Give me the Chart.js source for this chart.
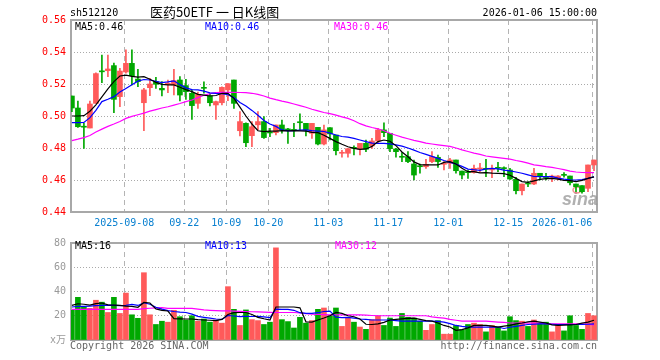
<!DOCTYPE html>
<html>
<head>
<meta charset="utf-8">
<script src="https://cdn.jsdelivr.net/npm/chart.js@4/dist/chart.umd.min.js"></script>
<style>
  body { margin: 0; background: #fff; }
  #wrap { position: relative; width: 660px; height: 360px; overflow: hidden;
          font-family: "DejaVu Sans Mono", monospace; font-size: 10px; }
  canvas { position: absolute; left: 0; }
  .t { position: absolute; white-space: nowrap; line-height: 12px; }
</style>
</head>
<body>
<div id="wrap">
  <canvas id="kChart" width="660" height="235" style="top:0"></canvas>
  <canvas id="volChart" width="660" height="128" style="top:232px"></canvas>
  <div class="t" style="left:70px;top:7px">sh512120</div>
  <div class="t" style="left:150px;top:4px;font:13px/16px 'Noto Sans CJK SC'">医药50ETF 一 日K线图</div>
  <div class="t" style="right:63px;top:7px">2026-01-06 15:00:00</div>
  <div class="t" id="lgMa5" style="left:75px;top:21px;color:#000"></div>
  <div class="t" id="lgMa10" style="left:205px;top:21px;color:#00f"></div>
  <div class="t" id="lgMa30" style="left:334px;top:21px;color:#f0f"></div>
  <div class="t" id="lgVma5" style="left:75px;top:240px;color:#000"></div>
  <div class="t" id="lgVma10" style="left:205px;top:240px;color:#00f"></div>
  <div class="t" id="lgVma30" style="left:335px;top:240px;color:#f0f"></div>
  <div class="t" style="left:70px;top:340px;color:#666">Copyright 2026 SINA.COM</div>
  <div class="t" style="right:63px;top:340px;color:#666">http://finance.sina.com.cn</div>
</div>
<script>
// daily candles, 2025-08-26 .. 2026-01-06 (88 trading days)
const openP = [0.5125,0.5050,0.4932,0.4925,0.5079,0.5280,0.5283,0.5315,0.5121,0.5275,
  0.5329,0.5231,0.5083,0.5177,0.5215,0.5173,0.5198,0.5194,0.5225,0.5190,
  0.5142,0.5079,0.5175,0.5127,0.5069,0.5083,0.5163,0.5225,0.4908,0.4954,
  0.4877,0.4945,0.4965,0.4898,0.4896,0.4944,0.4915,0.4915,0.4960,0.4954,
  0.4892,0.4929,0.4825,0.4927,0.4881,0.4767,0.4767,0.4800,0.4792,0.4829,
  0.4813,0.4844,0.4913,0.4892,0.4794,0.4744,0.4746,0.4700,0.4685,0.4683,
  0.4715,0.4742,0.4698,0.4704,0.4725,0.4656,0.4648,0.4646,0.4669,0.4669,
  0.4663,0.4675,0.4673,0.4663,0.4604,0.4533,0.4577,0.4575,0.4642,0.4617,
  0.4617,0.4610,0.4631,0.4625,0.4575,0.4565,0.4548,0.4694];
const closeP = [0.5050,0.4933,0.4930,0.5075,0.5265,0.5276,0.5294,0.5104,0.5281,0.5329,
  0.5252,0.5215,0.5163,0.5200,0.5198,0.5163,0.5204,0.5221,0.5131,0.5152,
  0.5065,0.5135,0.5173,0.5083,0.5090,0.5179,0.5202,0.5079,0.4965,0.4833,
  0.4933,0.4965,0.4865,0.4894,0.4944,0.4913,0.4913,0.4910,0.4958,0.4913,
  0.4954,0.4825,0.4913,0.4888,0.4783,0.4773,0.4796,0.4798,0.4829,0.4792,
  0.4844,0.4913,0.4896,0.4796,0.4777,0.4742,0.4715,0.4631,0.4683,0.4698,
  0.4746,0.4715,0.4704,0.4725,0.4658,0.4631,0.4646,0.4673,0.4673,0.4667,
  0.4673,0.4673,0.4671,0.4606,0.4533,0.4575,0.4575,0.4642,0.4621,0.4615,
  0.4625,0.4625,0.4629,0.4583,0.4558,0.4527,0.4694,0.4725];
const highP = [0.5125,0.5094,0.4954,0.5094,0.5270,0.5381,0.5381,0.5330,0.5298,0.5413,
  0.5413,0.5292,0.5173,0.5235,0.5242,0.5215,0.5225,0.5292,0.5246,0.5229,
  0.5163,0.5150,0.5213,0.5142,0.5094,0.5183,0.5202,0.5225,0.5027,0.4958,
  0.4965,0.5027,0.4996,0.4923,0.4944,0.4975,0.4923,0.4954,0.5013,0.4954,
  0.4954,0.4929,0.4944,0.4927,0.4881,0.4785,0.4796,0.4813,0.4829,0.4850,
  0.4860,0.4923,0.4958,0.4892,0.4798,0.4771,0.4777,0.4725,0.4700,0.4729,
  0.4777,0.4756,0.4715,0.4735,0.4725,0.4656,0.4662,0.4694,0.4704,0.4729,
  0.4694,0.4710,0.4683,0.4673,0.4617,0.4575,0.4590,0.4673,0.4642,0.4642,
  0.4631,0.4627,0.4646,0.4625,0.4575,0.4565,0.4694,0.4725];
const lowP = [0.5027,0.4929,0.4798,0.4925,0.5079,0.5208,0.5246,0.5021,0.5058,0.5267,
  0.5194,0.5183,0.4908,0.5127,0.5173,0.5125,0.5146,0.5131,0.5094,0.5104,
  0.4979,0.5048,0.5142,0.5063,0.4979,0.5069,0.5096,0.5048,0.4875,0.4808,
  0.4808,0.4913,0.4860,0.4871,0.4881,0.4892,0.4829,0.4871,0.4913,0.4875,
  0.4860,0.4819,0.4819,0.4850,0.4756,0.4742,0.4742,0.4756,0.4756,0.4777,
  0.4798,0.4829,0.4871,0.4777,0.4742,0.4715,0.4708,0.4600,0.4642,0.4673,
  0.4708,0.4679,0.4663,0.4673,0.4642,0.4606,0.4610,0.4642,0.4652,0.4621,
  0.4615,0.4652,0.4621,0.4604,0.4513,0.4506,0.4558,0.4571,0.4600,0.4600,
  0.4590,0.4600,0.4617,0.4569,0.4527,0.4517,0.4527,0.4658];

// moving averages as drawn on the price panel
const ma5 = [0.5000,0.5000,0.5002,0.5030,0.5070,0.5120,0.5170,0.5215,0.5250,0.5255,
  0.5248,0.5243,0.5246,0.5230,0.5210,0.5198,0.5194,0.5194,0.5180,0.5165,
  0.5152,0.5135,0.5130,0.5125,0.5128,0.5142,0.5142,0.5110,0.5055,0.5000,
  0.4950,0.4908,0.4902,0.4906,0.4906,0.4908,0.4907,0.4908,0.4907,0.4905,
  0.4898,0.4896,0.4880,0.4860,0.4840,0.4823,0.4808,0.4798,0.4792,0.4794,
  0.4810,0.4840,0.4850,0.4842,0.4815,0.4775,0.4745,0.4713,0.4696,0.4694,
  0.4694,0.4694,0.4710,0.4715,0.4700,0.4673,0.4652,0.4652,0.4645,0.4646,
  0.4643,0.4642,0.4640,0.4630,0.4610,0.4590,0.4585,0.4595,0.4604,0.4608,
  0.4610,0.4605,0.4598,0.4596,0.4590,0.4598,0.4610,0.4620];
const ma10 = [0.4958,0.4958,0.4960,0.4990,0.5035,0.5090,0.5105,0.5121,0.5150,0.5172,
  0.5195,0.5218,0.5228,0.5225,0.5217,0.5209,0.5213,0.5220,0.5196,0.5176,
  0.5165,0.5163,0.5155,0.5145,0.5142,0.5140,0.5133,0.5115,0.5085,0.5062,
  0.5035,0.5005,0.4972,0.4950,0.4935,0.4913,0.4907,0.4908,0.4912,0.4913,
  0.4909,0.4906,0.4903,0.4893,0.4881,0.4872,0.4868,0.4860,0.4850,0.4840,
  0.4830,0.4829,0.4829,0.4826,0.4820,0.4812,0.4800,0.4787,0.4772,0.4760,
  0.4748,0.4735,0.4722,0.4710,0.4700,0.4685,0.4668,0.4664,0.4660,0.4670,
  0.4673,0.4669,0.4662,0.4657,0.4650,0.4642,0.4632,0.4622,0.4621,0.4621,
  0.4621,0.4612,0.4605,0.4601,0.4600,0.4602,0.4610,0.4620];
const ma30 = [0.4846,0.4855,0.4865,0.4878,0.4900,0.4918,0.4935,0.4950,0.4966,0.4985,
  0.4998,0.5008,0.5018,0.5030,0.5040,0.5050,0.5058,0.5068,0.5078,0.5090,
  0.5100,0.5115,0.5130,0.5140,0.5146,0.5148,0.5148,0.5148,0.5147,0.5146,
  0.5142,0.5135,0.5125,0.5112,0.5102,0.5093,0.5085,0.5075,0.5065,0.5055,
  0.5042,0.5032,0.5022,0.5015,0.5005,0.4995,0.4985,0.4970,0.4952,0.4938,
  0.4928,0.4920,0.4908,0.4892,0.4880,0.4868,0.4858,0.4848,0.4840,0.4830,
  0.4825,0.4820,0.4815,0.4810,0.4800,0.4788,0.4778,0.4768,0.4760,0.4750,
  0.4745,0.4740,0.4735,0.4730,0.4722,0.4715,0.4705,0.4695,0.4690,0.4684,
  0.4679,0.4672,0.4665,0.4655,0.4650,0.4647,0.4646,0.4646];

// volume (x万) and its averages
const volume = [24.5,35.2,27.2,26.1,32.8,31.2,22.7,35.2,21.9,38.7,
  20.8,17.9,55.5,20.8,12.8,15.5,14.7,24.5,19.2,16.5,
  20.0,15.5,17.3,14.7,16.5,13.9,44.0,25.3,12.0,24.8,
  16.8,16.0,12.8,14.7,76.0,16.8,15.2,9.9,18.7,13.9,
  16.0,25.3,26.4,20.0,26.4,11.2,18.1,14.7,10.7,8.8,
  16.8,20.0,12.0,18.1,11.2,21.9,18.7,18.1,15.5,8.0,
  12.8,16.0,4.8,4.8,12.0,8.5,12.8,13.9,12.8,6.7,
  12.0,10.7,7.5,19.2,16.0,15.5,11.2,16.5,13.9,14.7,
  6.7,12.0,7.5,20.0,12.0,8.8,21.9,20.0];
const vma5 = [28.5,29.9,29.5,28.8,30.0,30.5,29.0,28.8,28.5,28.0,
  27.8,27.0,31.0,30.5,25.6,24.5,23.9,17.7,17.5,17.3,
  17.3,16.8,16.5,16.3,16.0,17.0,21.0,22.5,22.7,22.7,
  21.0,18.7,17.5,16.5,27.2,27.2,27.2,27.2,26.5,15.0,
  14.7,16.5,18.1,20.0,22.7,22.0,20.0,19.2,17.3,13.0,
  12.8,13.3,14.5,16.5,17.0,17.5,17.8,18.1,17.0,16.0,
  15.5,14.0,12.0,10.7,8.0,8.5,10.0,12.0,12.0,12.0,
  11.5,10.7,11.5,12.0,13.3,14.0,15.0,15.5,14.7,14.0,
  12.5,12.0,12.2,12.5,12.8,13.9,14.7,16.3];
const vma10 = [27.2,27.7,27.8,28.0,28.3,28.6,28.8,28.6,28.3,28.5,
  29.3,28.5,30.7,29.5,27.0,25.5,24.2,23.5,23.0,22.7,
  21.3,19.5,18.7,18.0,17.3,17.0,20.2,19.8,19.2,19.5,
  19.4,19.5,19.0,18.5,25.5,25.3,25.3,24.5,22.5,21.9,
  21.9,22.5,23.5,23.8,18.9,18.5,18.7,18.0,17.3,17.0,
  16.5,16.5,16.5,16.5,16.0,15.5,15.5,15.5,15.5,15.5,
  15.5,15.3,14.7,13.5,12.0,11.2,10.7,10.7,10.7,10.7,
  10.7,10.7,9.5,10.5,11.2,12.0,12.8,13.0,13.3,13.3,
  13.0,12.8,12.8,12.8,12.8,12.8,13.0,13.3];
const vma30 = [25.3,25.3,25.3,25.3,25.3,25.3,25.3,25.3,25.3,25.3,
  25.3,25.3,25.8,26.2,26.5,26.7,26.1,26.1,26.1,26.1,
  26.1,25.5,24.8,24.5,24.3,24.0,24.0,23.8,23.6,23.4,
  23.3,23.2,23.0,22.8,22.7,22.7,22.7,22.7,22.3,21.8,
  21.3,21.1,20.9,20.8,20.8,20.8,20.8,20.8,20.8,20.5,
  20.2,20.0,20.0,20.0,20.0,20.0,20.0,20.0,20.0,20.0,
  19.0,18.5,18.0,17.0,16.3,15.5,15.5,15.5,15.5,15.5,
  15.2,14.8,14.5,14.0,13.9,13.9,13.9,13.9,13.9,13.5,
  13.3,13.3,13.3,13.3,13.3,13.3,13.0,12.4];

// axis ticks
const tickIdx = [9, 19, 26, 33, 43, 53, 63, 73, 87];
const tickLabels = ['2025-09-08','09-22','10-09','10-20','11-03','11-17','12-01','12-15','2026-01-06'];
const priceTicks = [0.44, 0.46, 0.48, 0.50, 0.52, 0.54, 0.56];
const volTicks = [0, 20, 40, 60, 80];

const mono = '"DejaVu Sans Mono", "Noto Sans CJK SC", monospace';
const UP = '#ff5a5a', DOWN = '#00a800';
const barColor = openP.map((o, i) => closeP[i] >= o ? UP : DOWN);
const pts = arr => arr.map((y, i) => ({ x: i, y }));

document.getElementById('lgMa5').textContent = 'MA5:' + ma5[ma5.length - 1].toFixed(2);
document.getElementById('lgMa10').textContent = 'MA10:' + ma10[ma10.length - 1].toFixed(2);
document.getElementById('lgMa30').textContent = 'MA30:' + ma30[ma30.length - 1].toFixed(2);
document.getElementById('lgVma5').textContent = 'MA5:' + vma5[vma5.length - 1].toFixed(0);
document.getElementById('lgVma10').textContent = 'MA10:' + vma10[vma10.length - 1].toFixed(0);
document.getElementById('lgVma30').textContent = 'MA30:' + vma30[vma30.length - 1].toFixed(0);

Chart.defaults.font.family = mono;
Chart.defaults.font.size = 10;

// grey frame round the plot area
const frame = {
  id: 'frame',
  beforeDatasetsDraw(chart) {
    const { ctx, chartArea: a } = chart;
    ctx.save();
    ctx.strokeStyle = '#a8a8a8';
    ctx.lineWidth = 2;
    ctx.strokeRect(a.left, a.top, a.right - a.left, a.bottom - a.top);
    ctx.restore();
  }
};

const watermark = {
  id: 'watermark',
  beforeDatasetsDraw(chart) {
    const ctx = chart.ctx;
    ctx.save();
    ctx.fillStyle = 'rgba(150,150,150,0.75)';
    ctx.font = 'italic bold 18px "Liberation Sans"';
    ctx.fillText('sina', 562, 205);
    ctx.strokeStyle = 'rgba(235,120,120,0.8)';
    ctx.lineWidth = 1.5;
    ctx.beginPath();
    ctx.ellipse(577, 190, 4, 3, 0, 0, Math.PI * 2);
    ctx.stroke();
    ctx.restore();
  }
};

function xAxis(showLabels) {
  return {
    type: 'linear', min: -0.15, max: 87.5, offset: false,
    afterBuildTicks: s => { s.ticks = tickIdx.map(i => ({ value: i - 0.28 })); },
    afterFit: s => { s.height = showLabels ? 20 : 0; },
    grid: { color: '#b4b4b4', drawTicks: false, offset: false },
    border: { display: false, dash: [5, 4] },
    ticks: { display: showLabels, autoSkip: false, maxRotation: 0, padding: 5,
             color: '#0a80d0',
             // the last date sits left of its line so it stays inside the frame
             callback: (v, i) => i === tickLabels.length - 1 ? tickLabels[i] + '          ' : tickLabels[i] }
  };
}

function yAxis(ticks, color, fmt) {
  return {
    min: ticks[0], max: ticks[ticks.length - 1],
    afterBuildTicks: s => { s.ticks = ticks.map(v => ({ value: v })); },
    afterFit: s => { s.width = 71; },
    grid: { color: '#aaa', drawTicks: false },
    border: { display: false, dash: [1, 2] },
    ticks: { color, padding: 5, callback: fmt }
  };
}

const line = (data, color) => ({
  type: 'line', data: pts(data), borderColor: color, borderWidth: 1.2,
  pointRadius: 0, fill: false, order: 0
});

new Chart(document.getElementById('kChart'), {
  type: 'bar',
  data: {
    datasets: [
      line(ma5, '#000'),
      line(ma10, '#0000ff'),
      line(ma30, '#ff00ff'),
      { data: openP.map((o, i) => ({ x: i, y: [o, closeP[i]] })), backgroundColor: barColor,
        barThickness: 5, minBarLength: 1, grouped: false, order: 1 },
      { data: lowP.map((l, i) => ({ x: i, y: [l, highP[i]] })), backgroundColor: barColor,
        barThickness: 1, minBarLength: 1, grouped: false, order: 2 }
    ]
  },
  options: {
    responsive: false, animation: false,
    layout: { padding: { left: 0, right: 63, top: 20, bottom: 3 } },
    plugins: { legend: { display: false }, tooltip: { enabled: false } },
    scales: {
      x: xAxis(true),
      y: yAxis(priceTicks, '#f00', v => v.toFixed(2))
    }
  },
  plugins: [frame, watermark]
});

new Chart(document.getElementById('volChart'), {
  type: 'bar',
  data: {
    datasets: [
      line(vma5, '#000'),
      line(vma10, '#0000ff'),
      line(vma30, '#ff00ff'),
      { data: pts(volume), backgroundColor: barColor, barThickness: 5,
        grouped: false, order: 1 }
    ]
  },
  options: {
    responsive: false, animation: false,
    layout: { padding: { left: 0, right: 63, top: 8, bottom: 20 } },
    plugins: { legend: { display: false }, tooltip: { enabled: false } },
    scales: {
      x: xAxis(false),
      y: yAxis(volTicks, '#999', v => v === 0 ? 'x万' : String(v))
    }
  },
  plugins: [frame]
});
</script>
</body>
</html>
